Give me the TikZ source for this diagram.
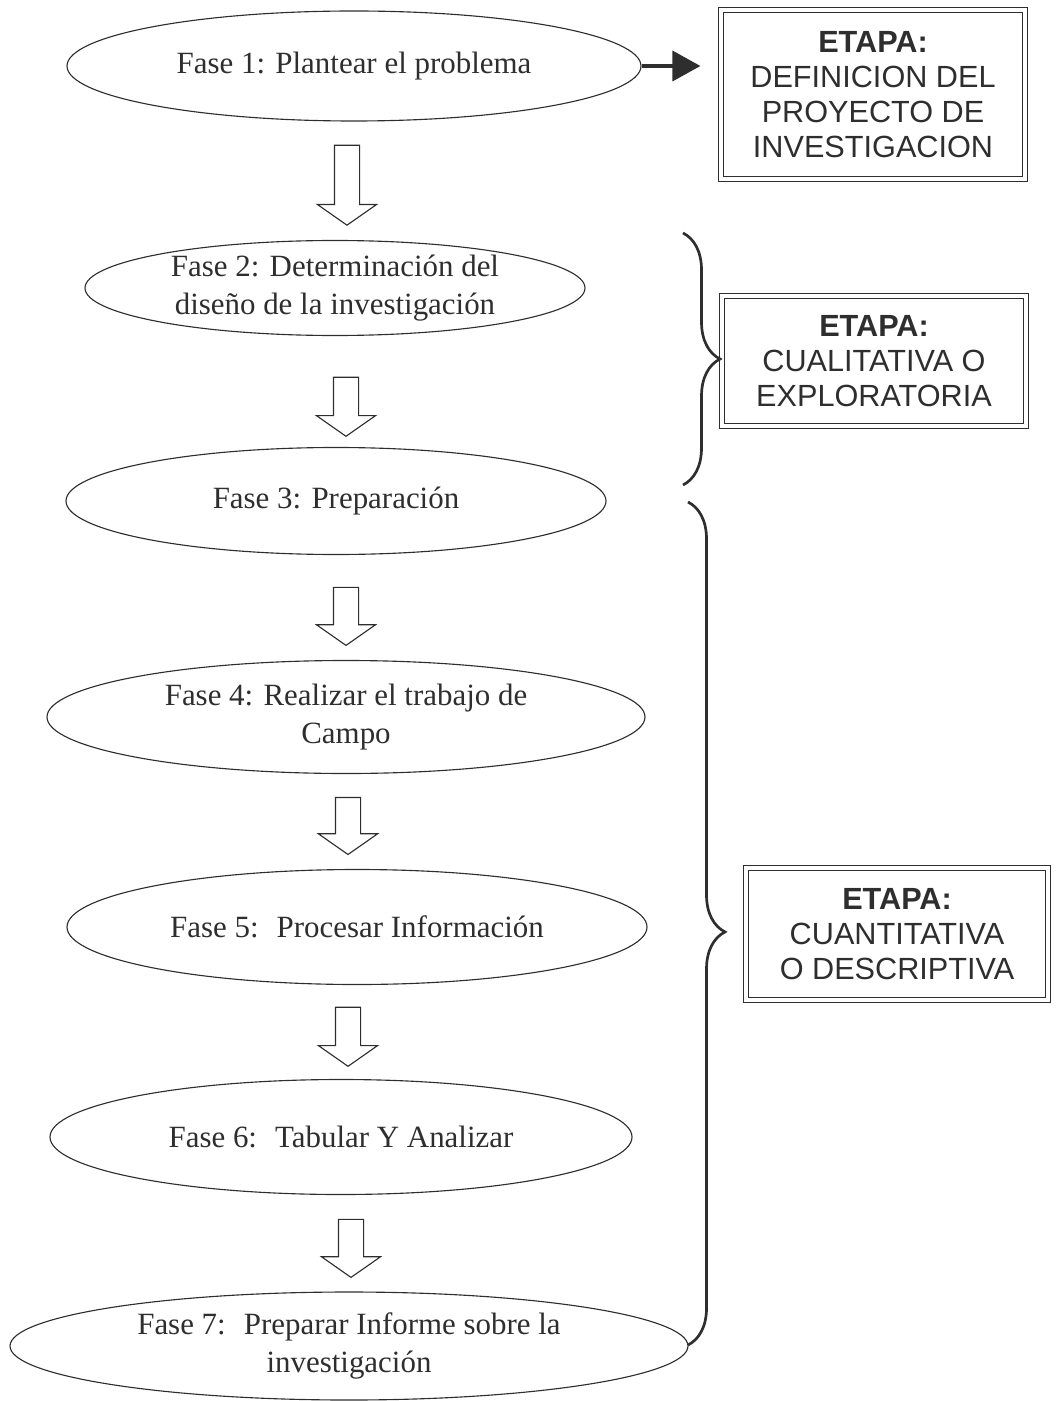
\documentclass[tikz,border=0pt]{standalone}
\usepackage{fontspec}
\setmainfont{Liberation Serif}
\setsansfont{Liberation Sans}
\usepackage{tikz}
\usetikzlibrary{arrows.meta,positioning,shapes.geometric,shapes.arrows,decorations.pathreplacing}
\definecolor{Trazo}{HTML}{2E2E2E}
\tikzset{>=Stealth,fase/.style={ellipse,draw=Trazo,line width=.8pt,inner sep=0pt,
 align=center,text=Trazo,font=\fontsize{22}{26.5}\selectfont},
 etapa/.style={draw=Trazo,double,double distance=2.2pt,line width=.8pt,align=center,
 text=Trazo,font=\sffamily\fontsize{21.8}{24.9}\selectfont},
 bajada/.style={single arrow,draw=Trazo,line width=.8pt,shape border rotate=270,
 inner sep=.3cm,single arrow head extend=.425cm,single arrow tip angle=110},
 llave/.style={draw=Trazo,line width=1.9pt,decorate,decoration={brace,amplitude=.925cm}}}

\begin{document}
\begin{tikzpicture}
\useasboundingbox (0,0) rectangle (26.4,-35.025);
\node[fase,minimum width=14.35cm,minimum height=2.75cm] (f1) at (8.85,-1.65)
 {Fase 1: Plantear el problema};
\node[fase,minimum width=12.5cm,minimum height=2.375cm] (f2) at (8.375,-7.2)
 {Fase 2: Determinación del\\diseño de la investigación};
\node[fase,minimum width=13.5cm,minimum height=2.675cm] (f3) at (8.4,-12.525)
 {Fase 3: Preparación};
\node[fase,minimum width=14.95cm,minimum height=2.825cm] (f4) at (8.65,-17.925)
 {Fase 4: Realizar el trabajo de\\Campo};
\node[fase,minimum width=14.5cm,minimum height=2.875cm] (f5) at (8.925,-23.175)
 {Fase 5:~ Procesar Información};
\node[fase,minimum width=14.55cm,minimum height=2.875cm] (f6) at (8.525,-28.425)
 {Fase 6:~ Tabular Y Analizar};
\node[fase,minimum width=16.95cm,minimum height=2.7cm] (f7) at (8.725,-33.65)
 {Fase 7:~ Preparar Informe sobre la\\investigación};
% flechas huecas entre fases
\foreach \n/\x/\y/\l in {1/8.675/-4.52/2.0,2/8.65/-10.06/1.475,3/8.65/-15.3/1.45,
 4/8.7/-20.54/1.425,5/8.7/-25.81/1.475,6/8.775/-31.1/1.45}
 \node[bajada,minimum height=\l cm] (a\n) at (\x,\y) {};
% etapas
\node[etapa,minimum width=7.6cm,minimum height=4.225cm] (b1) at (21.825,-2.3625)
 {\textbf{ETAPA:}\\DEFINICION DEL\\PROYECTO DE\\INVESTIGACION};
\node[etapa,minimum width=7.6cm,minimum height=3.25cm] (b2) at (21.85,-9.025)
 {\textbf{ETAPA:}\\CUALITATIVA O\\EXPLORATORIA};
\node[etapa,minimum width=7.55cm,minimum height=3.3cm] (b3) at (22.425,-23.35)
 {\textbf{ETAPA:}\\CUANTITATIVA\\O DESCRIPTIVA};
\draw[Trazo,line width=2.6pt,-{Triangle[length=.7cm,width=.75cm]},shorten >=.5cm]
 (f1) -- (f1 -| b1.west);
% llaves
\coordinate (l1a) at (17.075,-5.825);
\coordinate (l1b) at (17.075,-12.125);
\coordinate (l2a) at (17.2,-12.55);
\coordinate (l2b) at (17.2,-33.625);
\draw[llave] (l1a) -- (l1b);
\draw[llave,decoration={aspect=.51}] (l2a) -- (l2b);
\end{tikzpicture}
\end{document}
